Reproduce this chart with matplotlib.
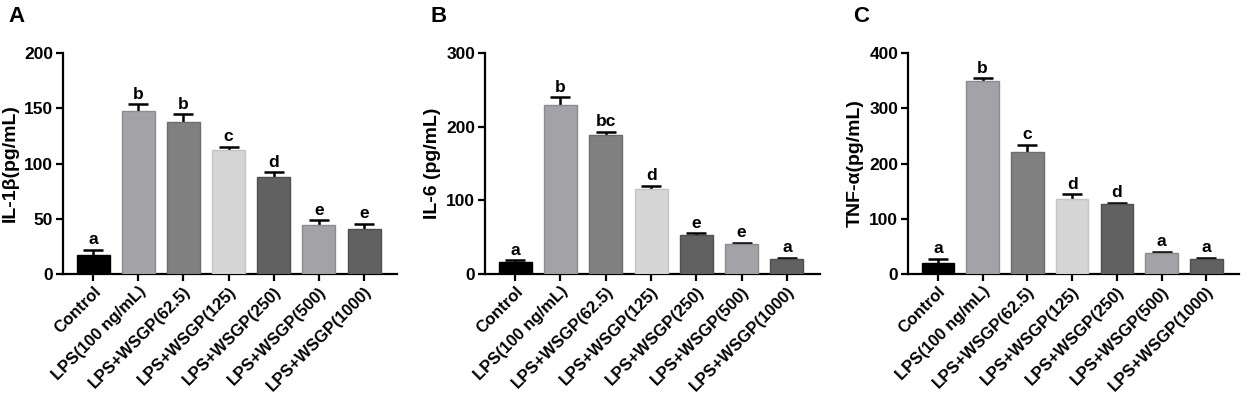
import matplotlib
matplotlib.use("Agg")
import matplotlib.pyplot as plt
import numpy as np

plt.rcParams['font.family'] = ['Liberation Sans', 'DejaVu Sans']
plt.rcParams['font.weight'] = 'bold'

categories = ["Control", "LPS(100 ng/mL)", "LPS+WSGP(62.5)", "LPS+WSGP(125)",
              "LPS+WSGP(250)", "LPS+WSGP(500)", "LPS+WSGP(1000)"]

il1b_mean = [17, 147.5, 137.5, 112.5, 87.5, 44.5, 40.5]
il1b_err = [5, 6, 7, 2.5, 4.5, 4.2, 4.8]
il1b_letters = ["a", "b", "b", "c", "d", "e", "e"]

il6_mean = [16.7, 229.5, 188.5, 116, 53, 41, 20.3]
il6_err = [2, 10.5, 4.5, 4, 2.2, 1.4, 1.8]
il6_letters = ["a", "b", "bc", "d", "e", "e", "a"]

tnf_mean = [19.5, 350, 221, 135, 127, 38.6, 27]
tnf_err = [7.5, 4.2, 13, 9.5, 2.4, 1.2, 1.8]
tnf_letters = ["a", "b", "c", "d", "d", "a", "a"]

panel_ylabels = ["IL-1\u03b2(pg/mL)", "IL-6 (pg/mL)", "TNF-\u03b1(pg/mL)"]
panel_ymax = [200, 300, 400]
panel_ystep = [50, 100, 100]
panel_tags = ["A", "B", "C"]

bar_colors = ["#000000", "#a2a2a7", "#808080", "#d5d5d5", "#616161", "#a2a2a7", "#616161"]
edge_colors = ["#000000", "#8c8c90", "#6c6c6c", "#c4c4c4", "#505050", "#8c8c90", "#505050"]

fig = plt.figure(figsize=(12.48, 3.99), dpi=100)

lefts = [63, 485, 908]
rights = [397, 820, 1239]
W, H = 1248, 399
bottom_px, top_px = 274, 53

datasets = [(il1b_mean, il1b_err, il1b_letters),
            (il6_mean, il6_err, il6_letters),
            (tnf_mean, tnf_err, tnf_letters)]

x = np.arange(len(categories))
for i, (means, errs, letters) in enumerate(datasets):
    ax = fig.add_axes([lefts[i] / W, 1 - bottom_px / H,
                       (rights[i] - lefts[i]) / W, (bottom_px - top_px) / H])
    ax.bar(x, means, width=0.73, color=bar_colors, edgecolor=edge_colors,
           linewidth=1.0, zorder=3)
    ax.errorbar(x, means, yerr=errs, fmt='none',
                ecolor='black', elinewidth=1.8, capsize=7, capthick=1.8, zorder=2)
    ymax = panel_ymax[i]
    for xi, m, e, lab in zip(x, means, errs, letters):
        ax.text(xi, m + e + ymax * 0.012, lab, ha='center', va='bottom',
                fontsize=12.5, fontweight='bold')
    ax.set_xlim(-0.667, 6.73)
    ax.set_ylim(0, ymax)
    ax.set_yticks(np.arange(0, ymax + 1, panel_ystep[i]))
    ax.set_xticks(x)
    ax.set_xticklabels(categories, rotation=45, ha='right', rotation_mode='anchor',
                       fontsize=12, fontweight='bold')
    for lbl in ax.get_yticklabels():
        lbl.set_fontsize(12.5)
        lbl.set_fontweight('bold')
    ax.set_ylabel(panel_ylabels[i], fontsize=14, fontweight='bold', labelpad=4)
    for s in ['top', 'right']:
        ax.spines[s].set_visible(False)
    for s in ['left', 'bottom']:
        ax.spines[s].set_linewidth(1.6)
    ax.tick_params(axis='both', direction='out', length=5, width=1.6, pad=2)
    fig.text((lefts[i] - 55) / W, 1 - 6 / H, panel_tags[i], fontsize=16,
             fontweight='bold', va='top', ha='left')

fig.savefig("out.png", dpi=100)
